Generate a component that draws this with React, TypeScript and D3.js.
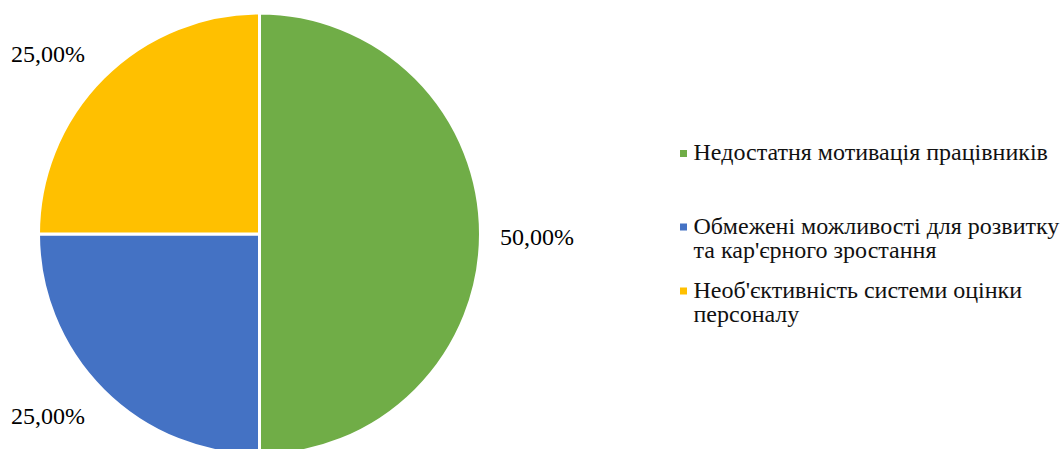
import React from "react";
import * as d3 from "d3";

const categories = [
  "Недостатня мотивація працівників",
  "Обмежені можливості для розвитку та кар'єрного зростання",
  "Необ'єктивність системи оцінки персоналу",
];
const values = [50, 25, 25];
const valueLabels = ["50,00%", "25,00%", "25,00%"];
const legendLines = [
  ["Недостатня мотивація працівників"],
  ["Обмежені можливості для розвитку", "та кар'єрного зростання"],
  ["Необ'єктивність системи оцінки", "персоналу"],
];
const colors = ["#70AD47", "#4472C4", "#FFC000"];

export default function App() {
  const W = 1064, H = 449;
  const cx = 259.5, cy = 234, r = 221;
  const pie = d3.pie<number>().sort(null).value((d) => d);
  const arcs = pie(values);
  const arc = d3.arc<d3.PieArcDatum<number>>().innerRadius(0).outerRadius(r);
  const font = "Liberation Serif";
  const fs = 24;
  const labelPos = [
    { x: 500, y: 245 },
    { x: 11, y: 424 },
    { x: 11, y: 62 },
  ];
  const legendY = [160, 233.5, 297.5];
  return (
    <svg width={W} height={H} style={{ position: "absolute", left: 0, top: 0, background: "#fff" }}>
      <g transform={`translate(${cx},${cy})`}>
        {arcs.map((a, i) => (
          <path key={i} d={arc(a) || ""} fill={colors[i]} stroke="#fff" strokeWidth={3} />
        ))}
      </g>
      {valueLabels.map((t, i) => (
        <text key={i} x={labelPos[i].x} y={labelPos[i].y} fontFamily={font} fontSize={fs} fill="#000">
          {t}
        </text>
      ))}
      {legendLines.map((lines, i) => (
        <g key={i}>
          <rect x={680} y={legendY[i] - 10} width={7} height={7} fill={colors[i]} />
          {lines.map((ln, j) => (
            <text key={j} x={693.5} y={legendY[i] + j * 24} fontFamily={font} fontSize={fs} fill="#111">
              {ln}
            </text>
          ))}
        </g>
      ))}
    </svg>
  );
}
